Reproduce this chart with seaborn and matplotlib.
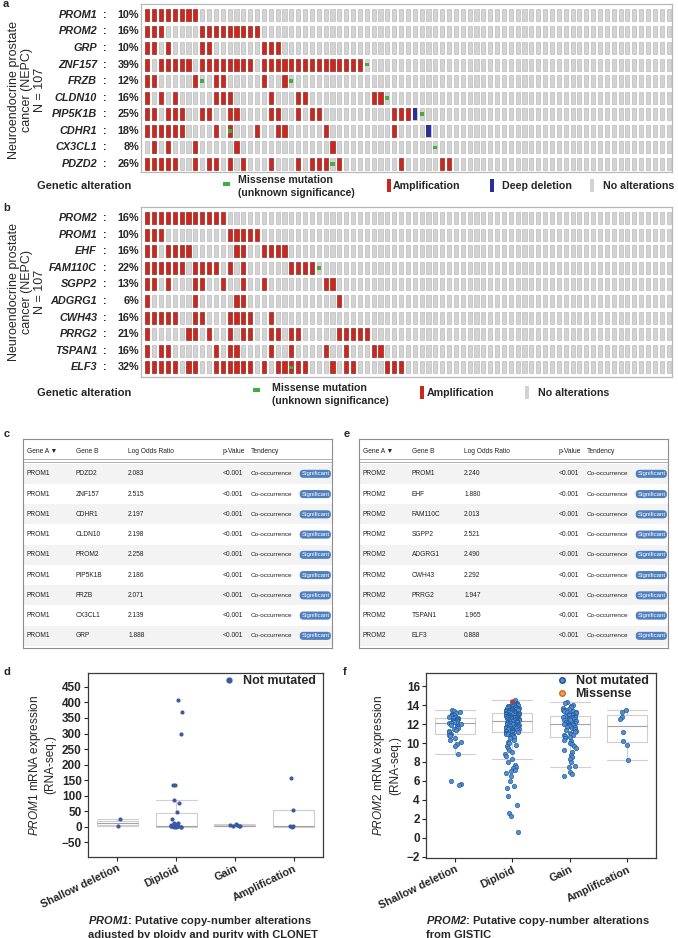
import matplotlib.pyplot as plt
from matplotlib.lines import Line2D
from matplotlib.patches import Rectangle
from matplotlib.transforms import blended_transform_factory
import numpy as np
import pandas as pd
import seaborn as sns

# ---------------- data ----------------
n_samples = 77

# panel a oncoprint (PROM1 co-occurring genes)
genes_a = ["PROM1", "PROM2", "GRP", "ZNF157", "FRZB", "CLDN10", "PIP5K1B", "CDHR1", "CX3CL1", "PDZD2"]
pct_a = ["10%", "16%", "10%", "39%", "12%", "16%", "25%", "18%", "8%", "26%"]
amp_a = [
    [0, 1, 2, 3, 4, 5, 6, 7],
    [0, 1, 2, 8, 9, 10, 11, 12, 13, 14, 15, 16],
    [0, 1, 3, 8, 9, 17, 18, 19],
    [0, 2, 3, 4, 5, 6, 8, 9, 10, 11, 12, 13, 14, 15, 17, 18, 19, 20, 21, 22, 23, 24, 25, 26, 27, 28, 29, 30, 31],
    [0, 1, 7, 10, 11, 17, 20],
    [0, 2, 4, 10, 11, 12, 18, 22, 23, 33, 34],
    [0, 1, 3, 4, 5, 8, 9, 12, 13, 18, 19, 22, 24, 25, 36, 37, 38],
    [0, 1, 2, 3, 4, 5, 10, 12, 16, 19, 20, 26, 36],
    [1, 3, 7, 13, 27],
    [0, 1, 2, 3, 4, 7, 9, 10, 12, 14, 18, 22, 24, 25, 26, 28, 37, 43, 44],
]
del_a = [[], [], [], [], [], [], [39], [41], [], []]
mis_a = [[], [], [], [32], [8, 21], [35], [40], [12], [42], [27]]

# panel b oncoprint (PROM2 co-occurring genes)
genes_b = ["PROM2", "PROM1", "EHF", "FAM110C", "SGPP2", "ADGRG1", "CWH43", "PRRG2", "TSPAN1", "ELF3"]
pct_b = ["16%", "10%", "16%", "22%", "13%", "6%", "16%", "21%", "16%", "32%"]
amp_b = [
    [0, 1, 2, 3, 4, 5, 6, 7, 8, 9, 10, 11],
    [0, 1, 2, 12, 13, 14, 15, 16],
    [0, 1, 3, 4, 5, 6, 13, 14, 17, 18, 19, 20],
    [0, 1, 2, 3, 4, 5, 7, 8, 9, 10, 12, 14, 21, 22, 23, 24],
    [0, 1, 3, 7, 8, 11, 14, 17, 26, 27],
    [0, 7, 13, 14, 28],
    [0, 1, 2, 3, 4, 7, 8, 12, 13, 14, 15, 18],
    [0, 6, 7, 9, 12, 14, 15, 18, 19, 21, 22, 28, 29, 30, 31, 32],
    [0, 2, 3, 10, 12, 13, 18, 21, 26, 29, 33, 34],
    [0, 1, 2, 3, 4, 6, 7, 10, 11, 12, 13, 14, 15, 17, 19, 20, 21, 22, 23, 27, 29, 30, 35, 36, 37],
]
del_b = [[], [], [], [], [], [], [], [], [], []]
mis_b = [[], [], [], [25], [], [], [], [], [], [21]]

# tables c and e
gene_a_c = "PROM1"
gene_b_c = ["PDZD2", "ZNF157", "CDHR1", "CLDN10", "PROM2", "PIP5K1B", "FRZB", "CX3CL1", "GRP"]
lor_c = ["2.083", "2.515", "2.197", "2.198", "2.258", "2.186", "2.071", "2.139", "1.888"]
gene_a_e = "PROM2"
gene_b_e = ["PROM1", "EHF", "FAM110C", "SGPP2", "ADGRG1", "CWH43", "PRRG2", "TSPAN1", "ELF3"]
lor_e = ["2.240", "1.880", "2.013", "2.521", "2.490", "2.292", "1.947", "1.965", "0.888"]
table_cols = ["Gene A \u25bc", "Gene B", "Log Odds Ratio", "p-Value", "Tendency"]

# panel d: PROM1 expression by CLONET copy number
cna_order = ["Shallow deletion", "Diploid", "Gain", "Amplification"]
d_shallow = [0.5, 25]
d_diploid = [0, 0, 0, 0.2, 0.3, 0.5, 0.8, 1, 1.5, 2, 2, 2.5, 3, 3, 4, 5, 6, 8, 10, 12, 1,
             25, 48, 75, 85, 135, 135, 297, 368, 408]
d_gain = [1, 2, 3, 4, 6, 9]
d_amp = [0, 0.5, 3, 53, 155]

# panel f: PROM2 expression by GISTIC copy number
f_shallow = [13.5, 13.4, 13.3, 13.2, 13.1, 13.0, 13.0, 12.9, 12.9, 12.8, 12.8, 12.7, 12.6, 12.6,
             12.5, 12.5, 12.4, 12.4, 12.3, 12.3, 12.2, 12.2, 12.2, 12.1, 12.1, 12.0, 11.9, 11.8,
             11.7, 11.6, 11.5, 11.4, 11.3, 11.2, 11.0, 10.9, 10.8, 10.7, 10.5, 10.3, 10.1, 9.9,
             9.7, 8.8, 6.0, 5.7, 5.6]
f_diploid = [14.5, 14.3, 14.2, 14.1, 14.1, 14.0, 14.0, 13.9, 13.9, 13.9, 13.8, 13.8, 13.8,
             13.7, 13.7, 13.7, 13.7, 13.6, 13.6, 13.6, 13.6, 13.5, 13.5, 13.5, 13.5, 13.5,
             13.4, 13.4, 13.4, 13.4, 13.3, 13.3, 13.3, 13.3, 13.3, 13.2, 13.2, 13.2, 13.2,
             13.1, 13.1, 13.1, 13.1, 13.0, 13.0, 13.0, 13.0, 13.0,
             12.9, 12.9, 12.9, 12.9, 12.8, 12.8, 12.8, 12.8, 12.8, 12.7, 12.7, 12.7, 12.7,
             12.6, 12.6, 12.6, 12.6, 12.5, 12.5, 12.5, 12.5, 12.4, 12.4, 12.4, 12.4,
             12.3, 12.3, 12.3, 12.3, 12.2, 12.2, 12.2, 12.2, 12.1, 12.1, 12.1,
             12.0, 12.0, 12.0, 12.0,
             11.9, 11.9, 11.9, 11.8, 11.8, 11.8, 11.7, 11.7, 11.7, 11.6, 11.6, 11.6,
             11.5, 11.5, 11.5, 11.4, 11.4, 11.3, 11.3, 11.3, 11.2, 11.2, 11.1, 11.1,
             11.0, 11.0, 11.0,
             10.9, 10.8, 10.7, 10.6, 10.5, 10.3, 10.1, 10.0, 9.8, 9.7, 9.5, 9.3, 9.1,
             8.8, 8.6, 8.3, 8.0, 7.7, 7.5, 7.4, 7.2, 7.0, 6.8, 6.5, 6.0, 5.5, 5.3, 4.4,
             3.4, 2.6, 2.3, 0.6]
f_gain = [14.3, 14.2, 14.0, 13.9, 13.8, 13.7, 13.6, 13.5, 13.5, 13.4, 13.4, 13.3, 13.3, 13.2,
          13.1, 13.1, 13.0, 13.0, 12.9, 12.9, 12.8, 12.8, 12.7, 12.7, 12.6, 12.6, 12.5, 12.5,
          12.4, 12.4, 12.3, 12.3, 12.2, 12.2, 12.1, 12.1, 12.0, 12.0, 12.0, 11.9, 11.9, 11.8,
          11.8, 11.7, 11.7, 11.6, 11.5, 11.5, 11.4, 11.3, 11.2, 11.1, 11.0, 10.9, 10.8, 10.7,
          10.6, 10.5, 10.3, 10.2, 10.0, 9.9, 9.7, 9.5, 9.3, 9.0, 8.7, 8.5, 8.3, 8.0, 7.6, 7.5,
          6.9, 6.7, 6.5]
f_amp = [13.5, 13.3, 12.8, 12.5, 11.2, 10.2, 9.8, 8.2]
f_missense_cna = ["Diploid"]
f_missense = [14.4]

# ---------------- style ----------------
sns.set_style("white")
plt.rcParams['font.family'] = ['Liberation Sans', 'DejaVu Sans']
plt.rcParams['mathtext.fontset'] = 'custom'
plt.rcParams['mathtext.rm'] = 'Liberation Sans'
plt.rcParams['mathtext.it'] = 'Liberation Sans:italic'
plt.rcParams['mathtext.bf'] = 'Liberation Sans:bold'
plt.rcParams['mathtext.bfit'] = 'Liberation Sans:italic:bold'

RED = "#c9281f"
RED_EDGE = "#9e1d16"
GREY = "#d3d3d3"
GREY_EDGE = "#b2b2b2"
BLUE = "#2b2f9c"
GREEN = "#3fae3a"
BADGE = "#4f7fbd"
D_BLUE = "#3c5aa4"
F_BLUE = "#4f8fd3"
F_EDGE = "#1d4f91"
ORANGE = "#f0a04b"
TABLE_FONT = ["Liberation Sans", "DejaVu Sans"]

W, H = 678, 938
fig = plt.figure(figsize=(W / 100, H / 100), dpi=100)


def box(x0, y0, x1, y1):
    return [x0 / W, 1 - y1 / H, (x1 - x0) / W, (y1 - y0) / H]


def ftext(x, y, s, **kw):
    fig.text(x / W, 1 - y / H, s, **kw)


def frect(x0, y0, x1, y1, color):
    fig.add_artist(Rectangle((x0 / W, 1 - y1 / H), (x1 - x0) / W, (y1 - y0) / H,
                             transform=fig.transFigure, color=color, lw=0))


def oncoprint(ax, genes, pcts, amp, dele, mis, ybottom):
    samples = np.arange(n_samples)
    for r in range(len(genes)):
        ax.bar(samples, 0.72, bottom=r - 0.36, width=0.6, color=GREY,
               edgecolor=GREY_EDGE, linewidth=0.4)
        ax.bar(amp[r], 0.72, bottom=r - 0.36, width=0.6, color=RED,
               edgecolor=RED_EDGE, linewidth=0.4)
        ax.bar(dele[r], 0.72, bottom=r - 0.36, width=0.6, color=BLUE, linewidth=0)
        ax.bar(mis[r], 0.22, bottom=r - 0.11, width=0.6, color=GREEN, linewidth=0)
    ax.set_xlim(-0.93, n_samples - 0.5)
    ax.set_ylim(ybottom, -0.66)
    ax.set_xticks([])
    ax.set_yticks([])
    for sp in ax.spines.values():
        sp.set_color("#b8b8b8")
        sp.set_linewidth(0.9)
    tr = blended_transform_factory(fig.transFigure, ax.transData)
    for r, g in enumerate(genes):
        ax.text(97 / W, r, g, transform=tr, ha="right", va="center", fontsize=7.8,
                fontweight="bold", fontstyle="italic")
        ax.text(105 / W, r, ":", transform=tr, ha="center", va="center", fontsize=7.8,
                fontweight="bold")
        ax.text(139 / W, r, pcts[r], transform=tr, ha="right", va="center", fontsize=7.8,
                fontweight="bold")


YLAB_A = "Neuroendocrine prostate\ncancer (NEPC)\nN = 107"

# ---------------- panel a ----------------
ax_a = fig.add_axes(box(141, 4, 672, 172))
oncoprint(ax_a, genes_a, pct_a, amp_a, del_a, mis_a, 9.49)
ftext(3, 4, "a", fontsize=8, fontweight="bold", va="center")
ftext(27, 90, YLAB_A, rotation=90, ha="center", va="center", fontsize=9,
      linespacing=1.08, multialignment="center")
ftext(37, 186, "Genetic alteration", fontsize=8, fontweight="bold", va="center")
frect(223, 182, 230, 186, GREEN)
ftext(238, 180, "Missense mutation", fontsize=7.6, fontweight="bold", va="center")
ftext(238, 193, "(unknown significance)", fontsize=7.6, fontweight="bold", va="center")
frect(387, 179, 391, 192, RED)
ftext(393, 186, "Amplification", fontsize=7.7, fontweight="bold", va="center")
frect(490, 179, 494, 192, BLUE)
ftext(502, 186, "Deep deletion", fontsize=7.7, fontweight="bold", va="center")
frect(590, 179, 594, 192, GREY)
ftext(603, 186, "No alterations", fontsize=7.7, fontweight="bold", va="center")

# ---------------- panel b ----------------
ax_b = fig.add_axes(box(141, 207, 672, 377))
oncoprint(ax_b, genes_b, pct_b, amp_b, del_b, mis_b, 9.58)
ftext(3, 208, "b", fontsize=8, fontweight="bold", va="center")
ftext(27, 292, YLAB_A, rotation=90, ha="center", va="center", fontsize=9,
      linespacing=1.08, multialignment="center")
ftext(37, 393, "Genetic alteration", fontsize=8, fontweight="bold", va="center")
frect(253, 388, 260, 392, GREEN)
ftext(272, 388, "Missense mutation", fontsize=7.6, fontweight="bold", va="center")
ftext(272, 401, "(unknown significance)", fontsize=7.6, fontweight="bold", va="center")
frect(420, 386, 424, 399, RED)
ftext(427, 393, "Amplification", fontsize=7.7, fontweight="bold", va="center")
frect(525, 386, 529, 399, GREY)
ftext(538, 393, "No alterations", fontsize=7.7, fontweight="bold", va="center")


# ---------------- tables c / e ----------------
def draw_table(ax, gene_a, gene_b, lor):
    n = len(gene_b)
    ax.set_xlim(0, 1)
    ax.set_ylim(n - 0.4, -1.72)
    ax.set_xticks([])
    ax.set_yticks([])
    for sp in ax.spines.values():
        sp.set_color("#8c8c8c")
        sp.set_linewidth(0.8)
    col_x = [0.012, 0.17, 0.34, 0.645, 0.738]
    for cx, name in zip(col_x, table_cols):
        ax.text(cx, -1.1, name, ha="left", va="center", fontsize=4.8,
                family=TABLE_FONT, color="#222222")
    ax.axhline(-0.74, color="#b0b0b0", lw=0.7)
    ax.axhline(-0.6, color="#b0b0b0", lw=0.7)
    for i in range(n):
        if i % 2 == 0:
            ax.axhspan(i - 0.5, i + 0.5, color="#f3f3f3", lw=0)
        vals = [gene_a, gene_b[i], lor[i], "<0.001", "Co-occurrence"]
        for cx, v in zip(col_x, vals):
            ax.text(cx, i, v, ha="left", va="center", fontsize=4.6 if cx > 0.7 else 4.8,
                    family=TABLE_FONT, color="#222222")
        ax.text(0.946, i, "Significant", ha="center", va="center", fontsize=4.4,
                color="white", family=TABLE_FONT,
                bbox=dict(boxstyle="round,pad=0.25,rounding_size=0.6", fc=BADGE, ec="none"))


ax_c = fig.add_axes(box(23, 439, 332, 648))
draw_table(ax_c, gene_a_c, gene_b_c, lor_c)
ftext(4, 434, "c", fontsize=8, fontweight="bold", va="center")
ax_e = fig.add_axes(box(359, 439, 668, 648))
draw_table(ax_e, gene_a_e, gene_b_e, lor_e)
ftext(344, 434, "e", fontsize=8, fontweight="bold", va="center")


# ---------------- expression plots d / f ----------------
def long_df(groups):
    cats, vals = [], []
    for c, v in zip(cna_order, groups):
        cats += [c] * len(v)
        vals += list(v)
    return pd.DataFrame({"cna": cats, "expr": vals})


def widen_caps(ax, half=0.35):
    # whisker caps as wide as the boxes
    for ln in ax.get_lines():
        x = np.asarray(ln.get_xdata(), dtype=float)
        y = np.asarray(ln.get_ydata(), dtype=float)
        if len(x) == 2 and y[0] == y[1] and 0.2 < abs(x[1] - x[0]) < 0.45:
            c = x.mean()
            ln.set_xdata([c - half, c + half])


def style_expr_axes(ax, gene, ylim, ticks, caption, x0):
    ax.set_ylim(*ylim)
    ax.set_yticks(ticks)
    ax.set_xlim(-0.5, 3.5)
    ax.set_xlabel("")
    ax.set_ylabel(r"$\mathit{" + gene + r"}$ mRNA expression" + "\n(RNA-seq.)",
                  fontsize=8.5, labelpad=4, linespacing=1.15)
    ax.tick_params(axis="both", length=3, width=0.8, direction="out", left=True,
                   bottom=True, pad=1.5, labelsize=8.5)
    for lab in ax.get_yticklabels():
        lab.set_fontweight("bold")
    ax.set_xticks(range(4))
    ax.set_xticklabels(cna_order, rotation=26, ha="right", rotation_mode="anchor",
                       fontweight="bold", fontsize=7.8)
    for sp in ax.spines.values():
        sp.set_color("#3a3a3a")
        sp.set_linewidth(0.9)
    ftext(x0, 914, caption, fontsize=8, fontweight="bold", va="top", ha="left",
          linespacing=1.2)


np.random.seed(3)
box_kw = dict(order=cna_order, fill=False, color="#cfcfcf", width=0.7, showfliers=False,
              linewidth=0.8, medianprops=dict(color="#a3a3a3"))

ax_d = fig.add_axes(box(88, 673, 323, 857))
d_df = long_df([d_shallow, d_diploid, d_gain, d_amp])
sns.boxplot(data=d_df, x="cna", y="expr", ax=ax_d, **box_kw)
widen_caps(ax_d)
sns.stripplot(data=d_df, x="cna", y="expr", order=cna_order, ax=ax_d, color=D_BLUE,
              size=3, jitter=0.1, linewidth=0)
style_expr_axes(ax_d, "PROM1", (-98, 495), np.arange(-50, 451, 50),
                r"$\mathbfit{PROM1}$: Putative copy-number alterations" + "\n"
                + "adjusted by ploidy and purity with CLONET", 88)
ax_d.legend(handles=[Line2D([0], [0], marker="o", ls="", color=D_BLUE, markersize=3.5,
                            label="Not mutated")],
            loc="upper right", bbox_to_anchor=(1.0, 1.03), frameon=False, handletextpad=0.1,
            borderaxespad=0.2, prop={"weight": "bold", "size": 9})
ftext(4, 672, "d", fontsize=8, fontweight="bold", va="center")

ax_f = fig.add_axes(box(426, 673, 656, 858))
f_df = long_df([f_shallow, f_diploid, f_gain, f_amp])
mis_df = pd.DataFrame({"cna": f_missense_cna, "expr": f_missense})
sns.boxplot(data=f_df, x="cna", y="expr", ax=ax_f, **box_kw)
widen_caps(ax_f)
sns.stripplot(data=f_df, x="cna", y="expr", order=cna_order, ax=ax_f, color=F_BLUE,
              size=3.2, jitter=0.12, edgecolor=F_EDGE, linewidth=0.4)
sns.stripplot(data=mis_df, x="cna", y="expr", order=cna_order, ax=ax_f, color="#c0392b",
              size=3.2, jitter=0, linewidth=0)
style_expr_axes(ax_f, "PROM2", (-2.15, 17.4), np.arange(-2, 17, 2),
                r"$\mathbfit{PROM2}$: Putative copy-number alterations" + "\n"
                + "from GISTIC", 426)
ax_f.legend(handles=[Line2D([0], [0], marker="o", ls="", color=F_BLUE, markeredgecolor=F_EDGE,
                            markersize=4, label="Not mutated"),
                     Line2D([0], [0], marker="o", ls="", color=ORANGE, markeredgecolor="#c86a1e",
                            markersize=4, label="Missense")],
            loc="upper right", bbox_to_anchor=(1.0, 1.03), frameon=False, handletextpad=0.1,
            borderaxespad=0.2, labelspacing=0.1, prop={"weight": "bold", "size": 9})
ftext(343, 672, "f", fontsize=8, fontweight="bold", va="center")

fig.savefig("out.png", dpi=100)
